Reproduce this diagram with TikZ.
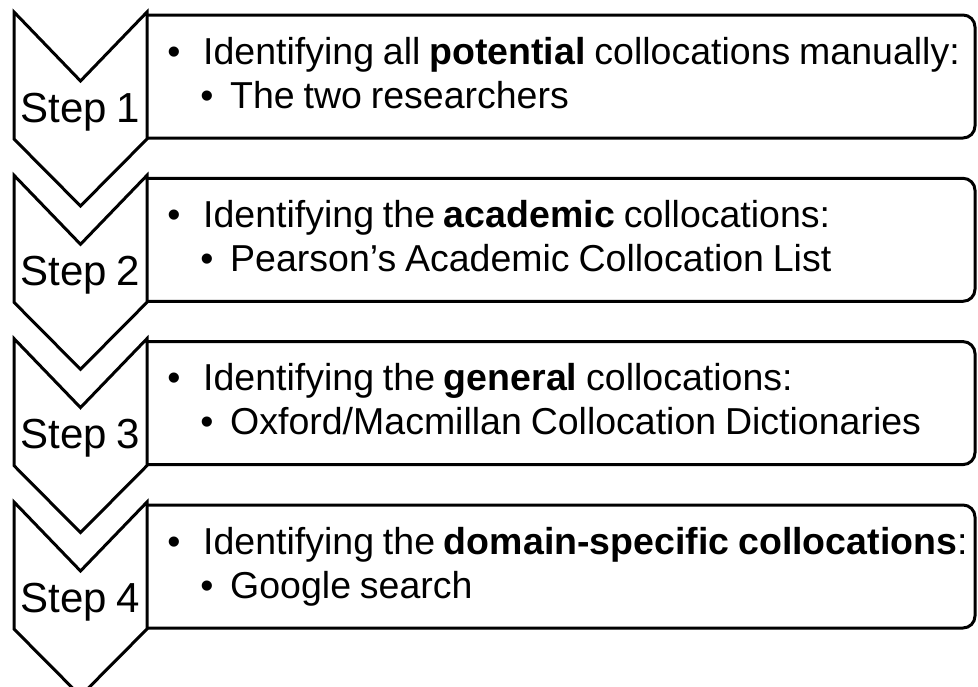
\documentclass[tikz,border=0pt]{standalone}
\usepackage{fontspec}
\setmainfont{Liberation Sans}[WordSpace=0.85]
\begin{document}
\begin{tikzpicture}[x=1pt, y=-1pt, line join=miter,
  outline/.style={draw=black, line width=3pt},
  steplabel/.style={inner sep=0pt, anchor=base, font=\fontsize{42}{42}\selectfont},
  mainline/.style={inner sep=0pt, anchor=base west, font=\fontsize{37.5}{37.5}\selectfont},
  dot/.style={inner sep=0pt, anchor=base, font=\fontsize{37.5}{37.5}\selectfont}]
\useasboundingbox (0,0) rectangle (978,686);
\clip (0,0) rectangle (978,686);

% one stage: chevron with its step label, and a box with a heading and a sub-point
% #1 = top of chevron, #2 = step number, #3 = heading, #4 = sub-point
\newcommand\flowstage[4]{%
  \draw[outline] (14,#1) -- (80.5,#1+69) -- (147,#1) -- (147,#1+127)
    -- (80.5,#1+194) -- (14,#1+127) -- cycle;
  \draw[outline, rounded corners=12pt] (147,#1+3) -- (975,#1+3)
    -- (975,#1+126) -- (147,#1+126);
  \node[steplabel] (step#2) at (80.5,#1+110) {Step #2};
  \node[dot] (bulletA#2) at (174,#1+52) {\textbullet};
  \node[mainline] (head#2) at (203,#1+52) {#3};
  \node[dot] (bulletB#2) at (207,#1+96) {\textbullet};
  \node[mainline] (sub#2) at (230,#1+96) {#4};
}

\flowstage{12}{1}{Identifying all \textbf{potential} collocations manually:}{The two researchers}
\flowstage{175.3}{2}{Identifying the \textbf{academic} collocations:}{Pearson’s Academic Collocation List}
\flowstage{338.6}{3}{Identifying the \textbf{general} collocations:}{Oxford/Macmillan Collocation Dictionaries}
\flowstage{502}{4}{Identifying the \textbf{domain-specific collocations}:}{Google search}
\end{tikzpicture}
\end{document}
